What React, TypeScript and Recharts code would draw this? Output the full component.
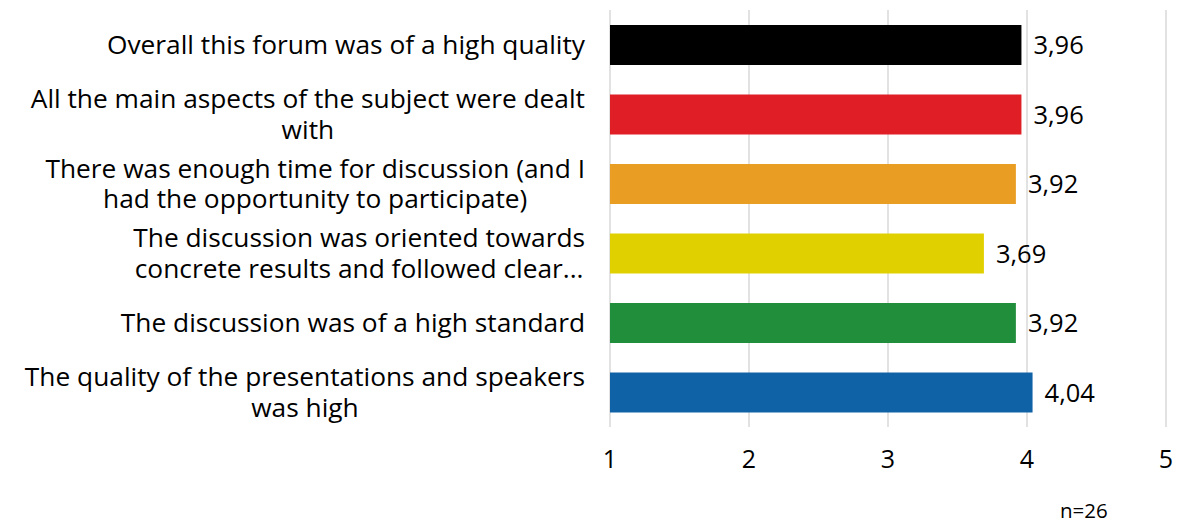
import { Bar, BarChart, CartesianGrid, Cell, LabelList, XAxis, YAxis } from "recharts";

const categories = [
  "Overall this forum was of a high quality",
  "All the main aspects of the subject were dealt\nwith",
  "There was enough time for discussion (and I\nhad the opportunity to participate)",
  "The discussion was oriented towards\nconcrete results and followed clear...",
  "The discussion was of a high standard",
  "The quality of the presentations and speakers\nwas high",
];

const scores = [3.96, 3.96, 3.92, 3.69, 3.92, 4.04];

const barColors = ["#000000", "#DF1E26", "#E99D22", "#E0D000", "#208E3B", "#1062A6"];

const xTicks = [1, 2, 3, 4, 5];

const sampleNote = "n=26";

const data = categories.map((name, i) => ({ name, score: scores[i] }));

const FONT = "'Open Sans', 'Noto Sans', sans-serif";
const FONT_SIZE = 26.3;
const LINE_HEIGHT = 30.5;

let canvasCtx: CanvasRenderingContext2D | null = null;
function measure(text: string) {
  if (!canvasCtx) {
    canvasCtx = document.createElement("canvas").getContext("2d");
  }
  if (!canvasCtx) return text.length * FONT_SIZE * 0.5;
  canvasCtx.font = `${FONT_SIZE}px ${FONT}`;
  return canvasCtx.measureText(text).width;
}

// multi-line labels: block right-aligned to the axis, lines centred inside it
function CategoryTick(props: any) {
  const { x, y, payload } = props;
  const lines: string[] = String(payload.value).split("\n");
  const maxWidth = Math.max(...lines.map(measure));
  const cx = x - maxWidth / 2;
  return (
    <g>
      {lines.map((line, i) => (
        <text
          key={i}
          x={cx}
          y={y + (i - (lines.length - 1) / 2) * LINE_HEIGHT}
          dy="0.36em"
          textAnchor="middle"
          fontSize={FONT_SIZE}
          fontFamily={FONT}
          fill="#000"
        >
          {line}
        </text>
      ))}
    </g>
  );
}

function formatScore(value: unknown) {
  return typeof value === "number" ? value.toFixed(2).replace(".", ",") : String(value);
}

export default function App() {
  return (
    <div style={{ position: "relative", width: 1181, height: 524, background: "#fff", fontFamily: FONT }}>
      <style>{`body { margin: 0; }`}</style>
      <BarChart
        width={1181}
        height={524}
        data={data}
        layout="vertical"
        margin={{ top: 10, right: 15, left: 0, bottom: 37 }}
        barSize={40}
      >
        <CartesianGrid horizontal={false} stroke="#D9D9D9" strokeWidth={1.5} />
        <XAxis
          type="number"
          domain={[1, 5]}
          ticks={xTicks}
          axisLine={false}
          tickLine={false}
          height={60}
          tickMargin={17}
          tick={{ fontSize: 25, fontFamily: FONT, fill: "#000" }}
        />
        <YAxis
          type="category"
          dataKey="name"
          width={610}
          axisLine={false}
          tickLine={false}
          tickMargin={19}
          tick={<CategoryTick />}
        />
        <Bar dataKey="score" isAnimationActive={false}>
          {data.map((d, i) => (
            <Cell key={d.name} fill={barColors[i]} />
          ))}
          <LabelList
            dataKey="score"
            position="right"
            offset={12}
            formatter={formatScore}
            style={{ fontSize: 25.5, fontFamily: FONT, fill: "#000" }}
          />
        </Bar>
      </BarChart>
      <div
        style={{
          position: "absolute",
          left: 1060,
          top: 498,
          fontSize: 20.5,
          lineHeight: "24px",
          color: "#000",
        }}
      >
        {sampleNote}
      </div>
    </div>
  );
}
